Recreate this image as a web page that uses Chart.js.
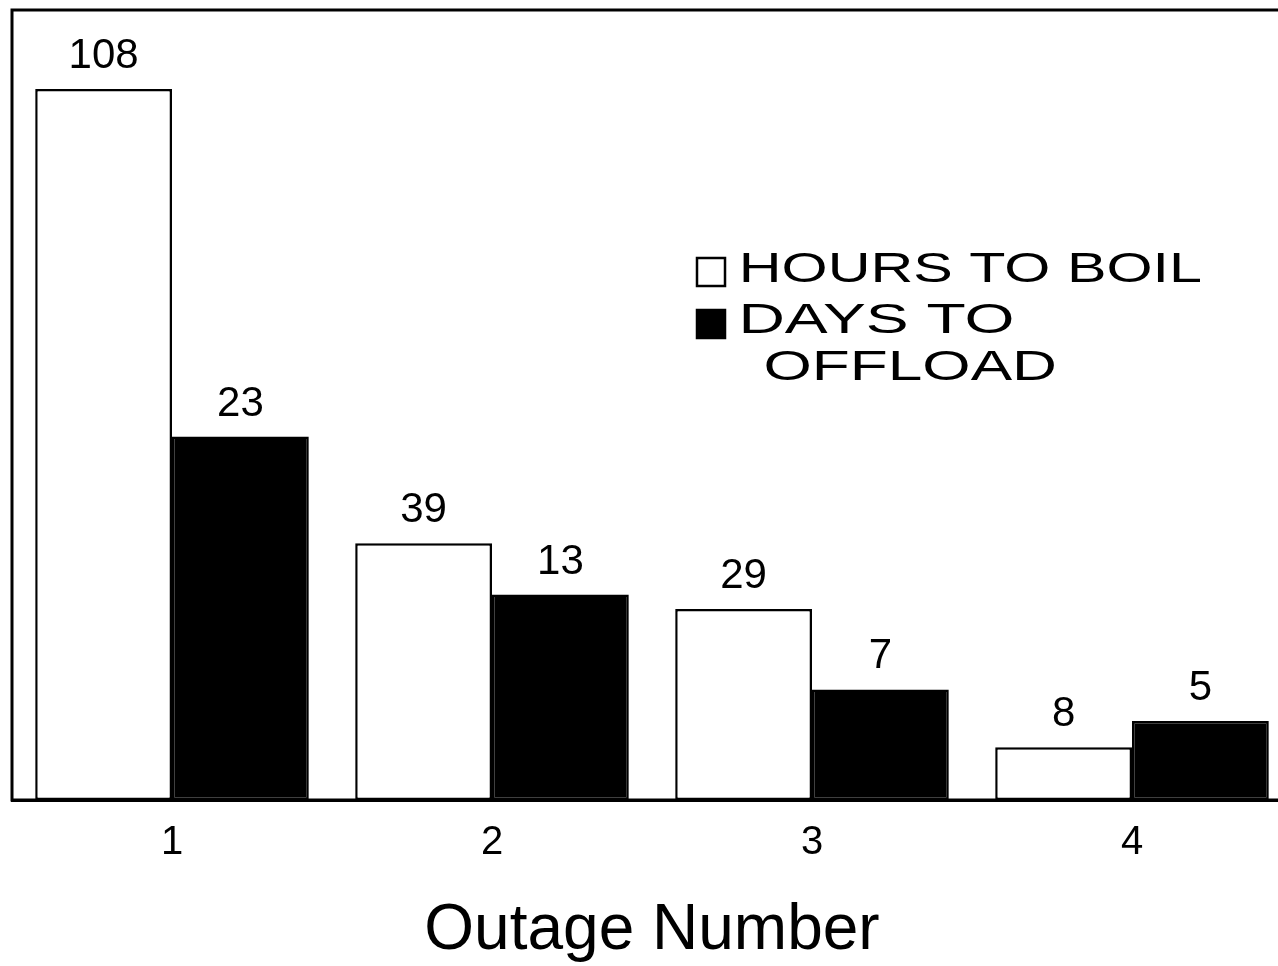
<!DOCTYPE html>
<html><head><meta charset="utf-8">
<script src="https://cdn.jsdelivr.net/npm/chart.js@4/dist/chart.umd.min.js"></script>
<style>
html,body{margin:0;padding:0;background:#fff;overflow:hidden;width:1278px;height:966px}
#wrap{position:absolute;left:0;top:0;width:1300px;height:966px}
</style></head><body><div id="wrap"><canvas id="c"></canvas></div>
<script>
const categories = ['1', '2', '3', '4'];
const hoursToBoil = [108, 39, 29, 8];
const daysToOffload = [23, 13, 7, 5];
const seriesNames = ['HOURS TO BOIL', 'DAYS TO OFFLOAD'];
const legendLines = [['HOURS TO BOIL'], ['DAYS TO', 'OFFLOAD']];
const axisTitle = 'Outage Number';
const hoursMax = 120;
const daysMax = 50;

const FAM = '"Liberation Sans", Arial, Helvetica, sans-serif';

const valueLabels = {
  id: 'valueLabels',
  afterDatasetsDraw(chart) {
    const ctx = chart.ctx;
    ctx.save();
    ctx.font = '42px ' + FAM;
    ctx.fillStyle = '#000';
    ctx.textAlign = 'center';
    ctx.textBaseline = 'alphabetic';
    chart.data.datasets.forEach((ds, i) => {
      chart.getDatasetMeta(i).data.forEach((bar, j) => {
        ctx.fillText(String(ds.data[j]), bar.x, bar.y - 21);
      });
    });
    ctx.restore();
  }
};

const frame = {
  id: 'frame',
  afterDatasetsDraw(chart) {
    const {ctx, chartArea: a} = chart;
    ctx.save();
    ctx.strokeStyle = '#000';
    ctx.lineWidth = 3;
    ctx.strokeRect(a.left, a.top, a.right - a.left, a.bottom - a.top);
    ctx.restore();
  }
};

function drawFitted(ctx, text, x, y, w) {
  const m = ctx.measureText(text);
  const vis = m.actualBoundingBoxLeft + m.actualBoundingBoxRight;
  const k = w / vis;
  ctx.save();
  ctx.translate(x + m.actualBoundingBoxLeft * k, y);
  ctx.scale(k, 1);
  ctx.fillText(text, 0, 0);
  ctx.restore();
}

const legendPlugin = {
  id: 'customLegend',
  afterDraw(chart) {
    const ctx = chart.ctx;
    ctx.save();
    ctx.lineWidth = 2.5;
    ctx.strokeStyle = '#000';
    ctx.fillStyle = '#fff';
    ctx.fillRect(697, 258, 28, 28);
    ctx.strokeRect(697, 258, 28, 28);
    ctx.fillStyle = '#000';
    ctx.fillRect(697, 310, 28, 28);
    ctx.strokeRect(697, 310, 28, 28);
    ctx.font = '42px ' + FAM;
    ctx.textAlign = 'left';
    ctx.textBaseline = 'alphabetic';
    drawFitted(ctx, legendLines[0][0], 743, 282, 457);
    drawFitted(ctx, legendLines[1][0], 743, 333, 269);
    drawFitted(ctx, legendLines[1][1], 765, 380, 290);
    ctx.restore();
  }
};

new Chart(document.getElementById('c'), {
  type: 'bar',
  data: {
    labels: categories,
    datasets: [
      {label: seriesNames[0], data: hoursToBoil, yAxisID: 'y', backgroundColor: '#fff',
       borderColor: '#000', borderWidth: 2.5, borderSkipped: false,
       categoryPercentage: 0.855, barPercentage: 1.0},
      {label: seriesNames[1], data: daysToOffload, yAxisID: 'y2', backgroundColor: '#000',
       borderColor: '#000', borderWidth: 2.5, borderSkipped: false,
       categoryPercentage: 0.855, barPercentage: 1.0}
    ]
  },
  options: {
    responsive: true,
    maintainAspectRatio: false,
    animation: false,
    layout: {padding: {left: 12, right: 8, top: 10, bottom: 0}},
    plugins: {legend: {display: false}, tooltip: {enabled: false}},
    scales: {
      x: {
        grid: {display: false, drawTicks: false},
        border: {display: true, color: '#000', width: 3},
        ticks: {color: '#000', font: {size: 40, family: FAM}, padding: 19},
        title: {display: true, text: axisTitle, color: '#000',
                font: {size: 64, family: FAM}, padding: {top: 0, bottom: -4}},
        afterFit(s) { s.height = 166; }
      },
      y: {display: false, min: 0, max: hoursMax},
      y2: {display: false, min: 0, max: daysMax}
    }
  },
  plugins: [valueLabels, frame, legendPlugin]
});
</script></body></html>
